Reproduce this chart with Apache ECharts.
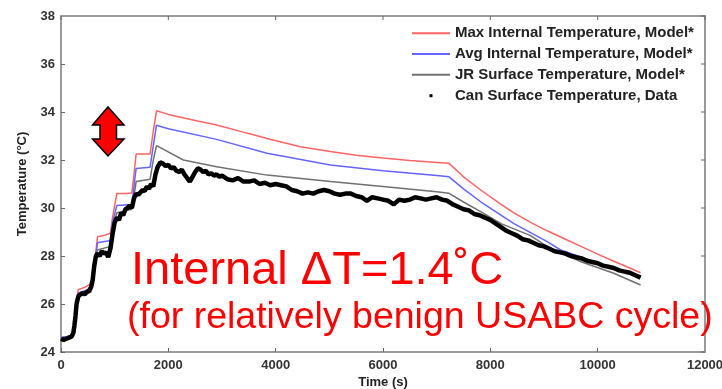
<!DOCTYPE html>
<html>
<head>
<meta charset="utf-8">
<script src="https://cdn.jsdelivr.net/npm/echarts@6/dist/echarts.min.js"></script>
<style>
html,body{margin:0;padding:0;background:#fff;}
#chart{width:722px;height:389px;}
</style>
</head>
<body>
<div id="chart"></div>
<script>
// ---- data ----
const seriesNames = [
  'Max Internal Temperature, Model*',
  'Avg Internal Temperature, Model*',
  'JR Surface Temperature, Model*',
  'Can Surface Temperature, Data'
];
const xTicks = [0, 2000, 4000, 6000, 8000, 10000, 12000];
const yTicks = [24, 26, 28, 30, 32, 34, 36, 38];

const maxTime = [0,100,220,260,320,450,560,600,680,800,920,960,1040,1200,1320,1360,1400,1550,1660,1720,1780,2000,2500,2900,3500,3840,4460,5020,5500,6000,6500,7000,7230,7500,7820,8200,8440,8750,9060,9400,9690,10000,10300,10600,10800];
const maxTemp = [24.6,24.62,24.72,25.6,26.6,26.7,26.85,27.2,28.8,28.85,28.95,29.6,30.6,30.6,30.62,31.4,32.25,32.25,32.25,33.2,34.05,33.9,33.65,33.46,33.1,32.9,32.55,32.35,32.2,32.08,31.98,31.9,31.86,31.3,30.75,30.15,29.8,29.4,29.05,28.7,28.4,28.08,27.78,27.5,27.3];

const avgTime = [0,220,260,320,560,600,680,920,960,1040,1320,1360,1400,1660,1720,1780,2000,2900,3840,5020,6000,7000,7230,7500,7820,8440,9060,9310,9700,10000,10300,10600,10800];
const avgTemp = [24.6,24.68,25.5,26.45,26.65,27.1,28.55,28.65,29.4,30.1,30.15,30.9,31.65,31.7,32.6,33.45,33.3,32.86,32.28,31.79,31.55,31.35,31.3,30.8,30.26,29.35,28.6,28.25,27.95,27.7,27.45,27.25,27.1];

const jrTime = [0,220,260,320,560,600,680,920,960,1040,1320,1360,1400,1660,1720,1780,2280,2900,3840,5020,6000,7000,7230,7500,7820,8200,8750,9060,9690,10300,10800];
const jrTemp = [24.55,24.65,25.4,26.3,26.5,26.9,28.25,28.4,29.1,29.8,29.95,30.5,31.1,31.2,32.0,32.6,32.0,31.72,31.37,31.1,30.9,30.68,30.61,30.25,29.85,29.35,28.85,28.39,27.76,27.28,26.79];

const canTime = [0,50,100,150,200,230,250,270,290,310,330,360,400,440,480,520,560,590,620,650,680,720,760,800,840,880,920,960,1000,1040,1080,1120,1160,1200,1240,1280,1320,1360,1400,1440,1480,1520,1560,1600,1640,1680,1720,1760,1800,1850,1900,1950,2000,2050,2100,2150,2200,2250,2300,2350,2400,2450,2500,2550,2600,2650,2700,2750,2800,2850,2900,2950,3000,3100,3200,3300,3400,3500,3600,3700,3800,3900,4000,4100,4200,4300,4400,4500,4600,4700,4800,4900,5000,5100,5200,5300,5400,5500,5600,5700,5800,5900,6000,6100,6200,6300,6400,6500,6600,6700,6800,6900,7000,7100,7200,7300,7400,7500,7600,7700,7800,7900,8000,8100,8200,8300,8400,8500,8600,8700,8800,8900,9000,9100,9200,9300,9400,9500,9600,9700,9800,9900,10000,10100,10200,10300,10400,10500,10600,10700,10800];
const canTemp = [24.55,24.5,24.55,24.6,24.65,24.8,25.1,25.5,26.0,26.2,26.35,26.3,26.45,26.4,26.5,26.55,26.7,27.0,27.6,28.0,28.1,28.0,28.2,28.1,28.15,27.95,28.3,28.9,29.4,29.6,29.5,29.8,29.7,29.95,30.0,30.1,30.0,30.4,30.6,30.55,30.65,30.75,30.7,30.9,30.8,31.0,30.9,31.4,31.7,31.9,31.85,31.75,31.8,31.65,31.7,31.55,31.5,31.6,31.4,31.25,31.1,31.3,31.5,31.65,31.6,31.5,31.55,31.4,31.45,31.35,31.4,31.3,31.35,31.2,31.15,31.25,31.1,31.1,31.15,31.0,31.05,30.95,31.0,30.95,30.9,30.75,30.7,30.6,30.65,30.6,30.7,30.75,30.7,30.6,30.55,30.6,30.6,30.5,30.45,30.3,30.45,30.4,30.35,30.3,30.15,30.35,30.3,30.35,30.45,30.4,30.35,30.4,30.45,30.35,30.3,30.15,30.05,29.95,29.9,29.75,29.7,29.6,29.5,29.35,29.2,29.05,28.95,28.85,28.7,28.65,28.55,28.45,28.4,28.3,28.2,28.15,28.1,28.0,27.95,27.9,27.8,27.75,27.7,27.6,27.55,27.5,27.4,27.35,27.3,27.2,27.1];

const pairs = (xs, ys) => xs.map((x, i) => [x, ys[i]]);

const chart = echarts.init(document.getElementById('chart'), null, {renderer: 'canvas'});
const FONT = '"Liberation Sans", Arial, sans-serif';
const axisGray = '#9a9a9a';
const lblStyle = {color: '#333', fontWeight: 'bold', fontSize: 13, fontFamily: FONT};
const legendText = {color: '#222', fontWeight: 'bold', fontSize: 15, fontFamily: FONT, lineHeight: 16};

// plot box in pixels (matches grid below)
const G = {left: 61, right: 17, top: 16, bottom: 37};
const W = 722, H = 389;
const boxL = G.left, boxR = W - G.right, boxT = G.top, boxB = H - G.bottom;

const graphics = [
  {
    type: 'polygon', z: 100,
    shape: {points: [[108,107],[124,125],[116.5,125],[116.5,139],[124,139],[108,156],[92.5,139],[100,139],[100,125],[92.5,125]]},
    style: {fill: '#ff0000', stroke: '#000', lineWidth: 1.5}
  },
  {
    type: 'text', z: 100, left: 131, top: 248,
    style: {text: 'Internal \u0394T=1.4\u02DAC', fill: '#ff0000', font: '47px ' + FONT}
  },
  {
    type: 'text', z: 100, left: 127, top: 299,
    style: {text: '(for relatively benign USABC cycle)', fill: '#ff0000', font: '37.5px ' + FONT}
  },
  // top and right edges of the box
  {type: 'polyline', z: 50, silent: true,
   shape: {points: [[boxL, boxT], [boxR, boxT], [boxR, boxB]]},
   style: {stroke: axisGray, lineWidth: 2, fill: null}}
];

const option = {
  animation: false,
  backgroundColor: '#fff',
  grid: {left: G.left, right: G.right, top: G.top, bottom: G.bottom, containLabel: false, outerBoundsMode: 'none'},
  legend: [
    {
      data: seriesNames.slice(0, 3).map(n => ({name: n, icon: 'rect'})),
      orient: 'vertical', left: 412, top: 25.3, padding: 0,
      itemWidth: 38, itemHeight: 2, itemGap: 4.7,
      textStyle: legendText,
      selectedMode: false
    },
    {
      data: [{name: seriesNames[3], icon: 'path://M0,0M38,6M17.5,1.5h3v3h-3z'}],
      orient: 'vertical', left: 412, top: 87.7, padding: 0,
      itemWidth: 38, itemHeight: 6,
      textStyle: legendText,
      selectedMode: false
    }
  ],
  xAxis: [
    {
      type: 'value', min: 0, max: 12000, interval: 2000,
      name: 'Time (s)', nameLocation: 'middle', nameGap: 24, nameMoveOverlap: false,
      nameTextStyle: {color: '#222', fontWeight: 'bold', fontSize: 13, fontFamily: FONT},
      axisLine: {onZero: false, lineStyle: {color: axisGray, width: 2}},
      axisTick: {inside: true, length: 4, lineStyle: {color: '#666'}},
      axisLabel: Object.assign({margin: 7, formatter: v => xTicks.includes(v) ? String(v) : ''}, lblStyle),
      splitLine: {show: false}
    }
  ],
  yAxis: [
    {
      type: 'value', min: 24, max: 38, interval: 2,
      name: 'Temperature (°C)', nameLocation: 'middle', nameGap: 32, nameMoveOverlap: false,
      nameTextStyle: {color: '#222', fontWeight: 'bold', fontSize: 13, fontFamily: FONT},
      axisLine: {show: true, onZero: false, lineStyle: {color: axisGray, width: 2}},
      axisTick: {show: true, inside: true, length: 4, lineStyle: {color: '#666'}},
      axisLabel: Object.assign({margin: 6, formatter: v => yTicks.includes(v) ? String(v) : ''}, lblStyle),
      splitLine: {show: false}
    }
  ],
  series: [
    {name: seriesNames[0], type: 'line', data: pairs(maxTime, maxTemp), symbol: 'none', lineStyle: {color: '#ff6464', width: 1.5}, itemStyle: {color: '#ff6464'}},
    {name: seriesNames[1], type: 'line', data: pairs(avgTime, avgTemp), symbol: 'none', lineStyle: {color: '#6464ff', width: 1.5}, itemStyle: {color: '#6464ff'}},
    {name: seriesNames[2], type: 'line', data: pairs(jrTime, jrTemp), symbol: 'none', lineStyle: {color: '#707070', width: 1.5}, itemStyle: {color: '#707070'}},
    {name: seriesNames[3], type: 'line', data: pairs(canTime, canTemp), symbol: 'none', lineStyle: {color: '#000', width: 4.5}, itemStyle: {color: '#000'}}
  ],
  graphic: graphics
};
chart.setOption(option);

// inward ticks on the top and right edges, placed through the axis scales
const extra = [];
xTicks.forEach(v => {
  const x = chart.convertToPixel({xAxisIndex: 0}, v);
  extra.push({type: 'line', z: 50, silent: true, shape: {x1: x, y1: boxT, x2: x, y2: boxT + 4}, style: {stroke: '#666', lineWidth: 1}});
});
yTicks.forEach(v => {
  const y = chart.convertToPixel({yAxisIndex: 0}, v);
  extra.push({type: 'line', z: 50, silent: true, shape: {x1: boxR, y1: y, x2: boxR - 4, y2: y}, style: {stroke: '#666', lineWidth: 1}});
});
chart.setOption({graphic: graphics.concat(extra)});
</script>
</body>
</html>
